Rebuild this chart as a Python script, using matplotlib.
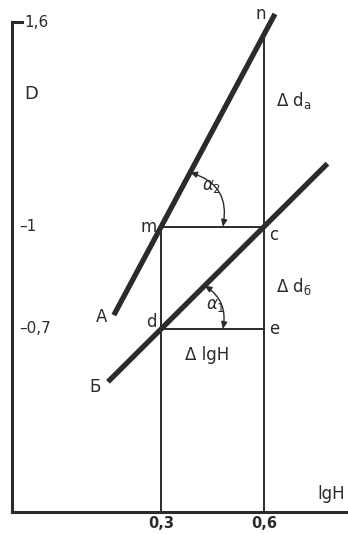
import matplotlib.pyplot as plt
from matplotlib.patches import FancyArrowPatch
import numpy as np

# values (lg H on x, D on y)
x_ticks = [0.3, 0.6]
x_tick_labels = ["0,3", "0,6"]
y_ticks = [0.7, 1.0, 1.6]
y_tick_labels = ["0,7", "1", "1,6"]

line_a_x = [0.162, 0.632]
line_a_slope = 1.88
line_b_x = [0.145, 0.785]
line_b_slope = 1.0

m = (0.3, 1.0)
c = (0.6, 1.0)
d = (0.3, 0.7)
e = (0.6, 0.7)

xlim = (-0.135, 0.845)
ylim = (0.163, 1.665)


def line_a(x):
    return m[1] + line_a_slope * (np.asarray(x) - m[0])


def line_b(x):
    return d[1] + line_b_slope * (np.asarray(x) - d[0])


fig = plt.figure(figsize=(3.48, 5.35), dpi=100)
ax = fig.add_axes([12 / 348, 23 / 535, 336 / 348, 512 / 535])
ax.set_xlim(*xlim)
ax.set_ylim(*ylim)

ink = "#2b2b2b"
ax.spines["top"].set_visible(False)
ax.spines["right"].set_visible(False)
for s in ("left", "bottom"):
    ax.spines[s].set_linewidth(2.2)
    ax.spines[s].set_color(ink)
ax.spines["left"].set_bounds(ylim[0], 1.6)

# thick lines A and Б
xa = np.array(line_a_x)
ax.plot(xa, line_a(xa), color=ink, lw=3.8, solid_capstyle="butt")
xb = np.array(line_b_x)
ax.plot(xb, line_b(xb), color=ink, lw=3.8, solid_capstyle="butt")

# construction lines
n_y = float(line_a(c[0]))
ax.plot([m[0], m[0]], [ylim[0], m[1]], color=ink, lw=1.4)
ax.plot([c[0], c[0]], [ylim[0], n_y], color=ink, lw=1.4)
ax.plot([m[0], c[0]], [m[1], c[1]], color=ink, lw=1.4)
ax.plot([d[0], e[0]], [d[1], e[1]], color=ink, lw=1.4)

# angle arcs
r = 0.18
for (vx, vy), slope in [(m, line_a_slope), (d, line_b_slope)]:
    ang = np.arctan(slope)
    p1 = (vx + r * np.cos(ang), vy + r * np.sin(ang))
    p2 = (vx + r, vy)
    arc = FancyArrowPatch(p1, p2, connectionstyle="arc3,rad=-%.2f" % (ang / 2.4),
                          arrowstyle="<|-|>,head_length=4,head_width=1.8",
                          color=ink, lw=1.0, shrinkA=0, shrinkB=0)
    ax.add_patch(arc)

# axis ticks
ax.set_xticks(x_ticks)
ax.set_xticklabels(x_tick_labels, fontweight="bold", fontsize=10.5)
ax.tick_params(axis="x", length=0, pad=3, colors=ink)
ax.set_yticks([])
ax.plot([xlim[0], xlim[0] + 0.03], [1.6, 1.6], color=ink, lw=2.2, clip_on=False)
for v, lab in zip(y_ticks, y_tick_labels):
    if v == 1.6:
        ax.text(xlim[0] + 0.035, v, lab, fontsize=11, color=ink, va="center", ha="left")
    else:
        ax.text(xlim[0] + 0.02, v, "\u2013" + lab, fontsize=11, color=ink, va="center", ha="left")

fs = 12
ax.text(-0.1, 1.39, "D", fontsize=13, color=ink, va="center")
ax.text(0.575, 1.625, "n", fontsize=fs, color=ink, va="center")
ax.text(0.635, 1.37, "\u0394 d$_{\\mathrm{a}}$", fontsize=fs, color=ink, va="center")
ax.text(0.42, 1.12, r"$\alpha_2$", fontsize=fs, color=ink, va="center")
ax.text(0.24, 1.0, "m", fontsize=fs, color=ink, va="center")
ax.text(0.615, 0.975, "c", fontsize=fs, color=ink, va="center")
ax.text(0.635, 0.825, "\u0394 d$_{\\mathrm{\u0431}}$", fontsize=fs, color=ink, va="center")
ax.text(0.11, 0.735, "A", fontsize=fs, color=ink, va="center")
ax.text(0.255, 0.72, "d", fontsize=fs, color=ink, va="center")
ax.text(0.43, 0.77, r"$\alpha_1$", fontsize=fs, color=ink, va="center")
ax.text(0.615, 0.7, "e", fontsize=fs, color=ink, va="center")
ax.text(0.37, 0.625, "\u0394 lgH", fontsize=fs, color=ink, va="center")
ax.text(0.09, 0.53, "\u0411", fontsize=fs, color=ink, va="center")
ax.text(xlim[1] - 0.01, 0.215, "lgH", fontsize=fs, color=ink, va="center", ha="right")

fig.savefig("out.png", dpi=100)
